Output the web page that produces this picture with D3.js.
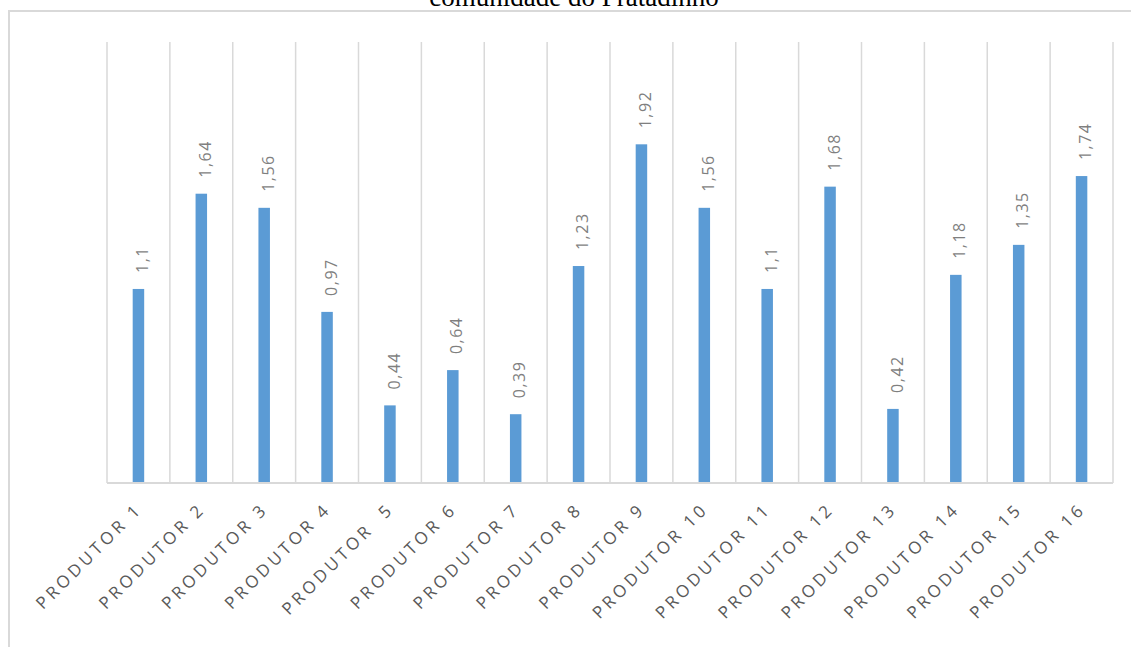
<!DOCTYPE html>
<html>
<head>
<meta charset="utf-8">
<script src="https://cdn.jsdelivr.net/npm/d3@7"></script>
<style>
  body { margin: 0; background: #fff; }
  svg { display: block; }
</style>
</head>
<body>
<svg width="1131" height="647"></svg>
<script>
// dados do gráfico
const produtores = ["PRODUTOR 1", "PRODUTOR 2", "PRODUTOR 3", "PRODUTOR 4", "PRODUTOR  5",
  "PRODUTOR 6", "PRODUTOR 7", "PRODUTOR 8", "PRODUTOR 9", "PRODUTOR 10", "PRODUTOR 11",
  "PRODUTOR 12", "PRODUTOR 13", "PRODUTOR 14", "PRODUTOR 15", "PRODUTOR 16"];
const valores = [1.1, 1.64, 1.56, 0.97, 0.44, 0.64, 0.39, 1.23, 1.92, 1.56, 1.1, 1.68, 0.42, 1.18, 1.35, 1.74];
const titulo = "comunidade do Pratadinho";

const svg = d3.select("svg");
const margin = { top: 42, right: 18, bottom: 164, left: 107 };
const width = 1131, height = 647;

const x = d3.scaleBand()
  .domain(produtores)
  .range([margin.left, width - margin.right])
  .paddingInner(0).paddingOuter(0);

const y = d3.scaleLinear()
  .domain([0, 2.5])
  .range([height - margin.bottom, margin.top]);

const grid = "#d9d9d9";

// título (cortado no topo, como no original)
svg.append("text")
  .attr("x", 574)
  .attr("y", 6)
  .attr("text-anchor", "middle")
  .style("font-family", "'Liberation Serif', 'Times New Roman', serif")
  .style("font-size", "27px")
  .attr("fill", "#000")
  .text(titulo);

// borda da área do gráfico
svg.append("path")
  .attr("d", `M9,${height} V11 H${width}`)
  .attr("fill", "none")
  .attr("stroke", grid)
  .attr("stroke-width", 2);

// linhas verticais entre categorias
const bounds = produtores.map(p => x(p)).concat([x(produtores[produtores.length - 1]) + x.bandwidth()]);
svg.append("g")
  .selectAll("line")
  .data(bounds)
  .join("line")
  .attr("x1", d => d).attr("x2", d => d)
  .attr("y1", y(2.5)).attr("y2", y(0))
  .attr("stroke", grid)
  .attr("stroke-width", 1.5);

// barras
const barW = 11.5;
svg.append("g")
  .selectAll("rect")
  .data(valores)
  .join("rect")
  .attr("x", (d, i) => x(produtores[i]) + x.bandwidth() / 2 - barW / 2)
  .attr("y", d => y(d))
  .attr("width", barW)
  .attr("height", d => y(0) - y(d))
  .attr("fill", "#5b9bd5");

// eixo x (linha base)
svg.append("line")
  .attr("x1", x.range()[0]).attr("x2", x.range()[1])
  .attr("y1", y(0)).attr("y2", y(0))
  .attr("stroke", grid)
  .attr("stroke-width", 2);

// rótulos de valor
const fmt = v => String(v).replace(".", ",");
svg.append("g")
  .selectAll("text")
  .data(valores)
  .join("text")
  .attr("transform", (d, i) => `translate(${x(produtores[i]) + x.bandwidth() / 2 + 4},${y(d) - 16}) rotate(-90)`)
  .attr("dy", "0.35em")
  .style("font-family", "'Open Sans', sans-serif")
  .style("font-size", "16px")
  .style("letter-spacing", "1.5px")
  .attr("fill", "#7f7f7f")
  .text(d => fmt(d));

// rótulos das categorias
svg.append("g")
  .selectAll("text")
  .data(produtores)
  .join("text")
  .attr("transform", d => `translate(${x(d) + x.bandwidth() / 2 + 5},${y(0) + 27}) rotate(-45)`)
  .attr("text-anchor", "end")
  .style("font-family", "'Open Sans', sans-serif")
  .style("font-size", "17px")
  .style("letter-spacing", "3.6px")
  .style("white-space", "pre")
  .attr("fill", "#595959")
  .text(d => d);
</script>
</body>
</html>
